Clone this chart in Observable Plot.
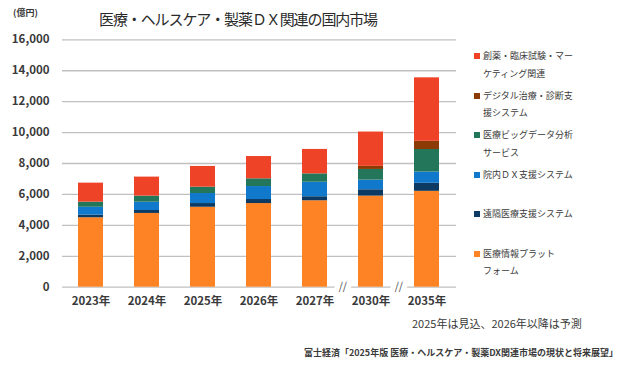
<!DOCTYPE html>
<html>
<head>
<meta charset="utf-8">
<script src="https://cdn.jsdelivr.net/npm/d3@7"></script>
<script src="https://cdn.jsdelivr.net/npm/@observablehq/plot@0.6"></script>
<style>
  body { margin: 0; background: #fff; font-family: "Noto Sans CJK JP", sans-serif; }
  #wrap { position: relative; width: 625px; height: 370px; overflow: hidden; }
  #chart { position: absolute; left: 0; top: 0; }
  .abs { position: absolute; white-space: nowrap; color: #3a3a3a; }
  .leg { position: absolute; left: 474px; display: flex; align-items: flex-start; color: #3a3a3a; }
  .sw { width: 6px; height: 6px; margin-top: 6px; margin-right: 3px; flex: none; }
  .lt { font-size: 9px; line-height: 17.5px; white-space: pre; }
</style>
</head>
<body>
<div id="wrap">
  <div id="chart"></div>
  <div class="abs" style="left:13px; top:5px; font-size:9px; line-height:15px; font-weight:bold;">(億円)</div>
  <div class="abs" id="title" style="left:99px; top:9px; font-size:15px; line-height:20px; letter-spacing:-1.1px; color:#2a2a2a;">医療・ヘルスケア・製薬ＤＸ関連の国内市場</div>
  <div class="abs" style="left:412px; top:315px; font-size:11px; line-height:16px;">2025年は見込、2026年以降は予測</div>
  <div class="abs" style="right:7px; top:346px; font-size:9px; line-height:14px; font-weight:bold;">富士経済「2025年版 医療・ヘルスケア・製薬DX関連市場の現状と将来展望」</div>
  <div id="legend"></div>
</div>
<script>
// Categories
const years = ["2023年", "2024年", "2025年", "2026年", "2027年", "2030年", "2035年"];
// Axis breaks (shown as "//" before these categories)
const breaks = ["2030年", "2035年"];
// Y ticks
const yTicks = [0, 2000, 4000, 6000, 8000, 10000, 12000, 14000, 16000];

// Series names, stacked bottom to top
const seriesNames = [
  "医療情報プラットフォーム",
  "遠隔医療支援システム",
  "院内ＤＸ支援システム",
  "医療ビッグデータ分析サービス",
  "デジタル治療・診断支援システム",
  "創薬・臨床試験・マーケティング関連"
];
// Legend labels as wrapped in the reference (same order as seriesNames)
const legendLabels = [
  "医療情報プラット\nフォーム",
  "遠隔医療支援システム",
  "院内ＤＸ支援システム",
  "医療ビッグデータ分析\nサービス",
  "デジタル治療・診断支\n援システム",
  "創薬・臨床試験・マー\nケティング関連"
];
const seriesColors = ["#FD8324", "#0C3A63", "#1179CC", "#237659", "#8C3A06", "#EF4327"];

// Values (億円)
const platform   = [4490, 4770, 5170, 5410, 5590, 5890, 6200];
const remote     = [170, 190, 240, 260, 260, 410, 520];
const inhospital = [510, 540, 650, 840, 940, 625, 730];
const bigdata    = [330, 390, 410, 500, 540, 690, 1455];
const digital    = [0, 0, 0, 0, 0, 200, 530];
const drug       = [1230, 1230, 1340, 1440, 1580, 2220, 4105];

const seriesValues = [platform, remote, inhospital, bigdata, digital, drug];

const data = [];
seriesNames.forEach((s, i) => {
  years.forEach((y, j) => data.push({ year: y, series: s, value: seriesValues[i][j] }));
});

const chart = Plot.plot({
  width: 625,
  height: 370,
  marginTop: 39.3,
  marginBottom: 83.3,
  marginLeft: 62,
  marginRight: 169,
  style: { fontFamily: "'Noto Sans CJK JP', sans-serif", color: "#3a3a3a", background: "transparent" },
  x: { domain: years, paddingInner: 0.545, paddingOuter: 0.263, label: null },
  y: { domain: [0, 16000], label: null },
  color: { domain: seriesNames, range: seriesColors },
  marks: [
    Plot.ruleY(yTicks, { stroke: "#c0c0c0", strokeWidth: 1.3 }),
    Plot.barY(data, { x: "year", y: "value", fill: "series", order: seriesNames }),
    Plot.text(breaks, {
      x: d => d, y: 0, text: () => "//", dx: -28.2, dy: -1,
      fill: "#444", stroke: "white", strokeWidth: 11, fontSize: 10.5
    }),
    Plot.axisY(yTicks, {
      tickSize: 0, tickPadding: 13, tickFormat: d3.format(","),
      fontSize: 11.5, fontWeight: "bold", label: null
    }),
    Plot.axisX({
      tickSize: 0, tickPadding: 10, fontSize: 11.5, fontWeight: "bold", label: null
    })
  ]
});
document.getElementById("chart").appendChild(chart);

// Legend (top to bottom = reverse stack order)
const legend = document.getElementById("legend");
const legendOrder = seriesNames.map((n, i) => i).reverse();
legendOrder.forEach((idx, k) => {
  const item = document.createElement("div");
  item.className = "leg";
  item.style.top = (47 + k * 39.5) + "px";
  const sw = document.createElement("span");
  sw.className = "sw";
  sw.style.background = seriesColors[idx];
  const t = document.createElement("div");
  t.className = "lt";
  t.textContent = legendLabels[idx];
  item.appendChild(sw);
  item.appendChild(t);
  legend.appendChild(item);
});
</script>
</body>
</html>
